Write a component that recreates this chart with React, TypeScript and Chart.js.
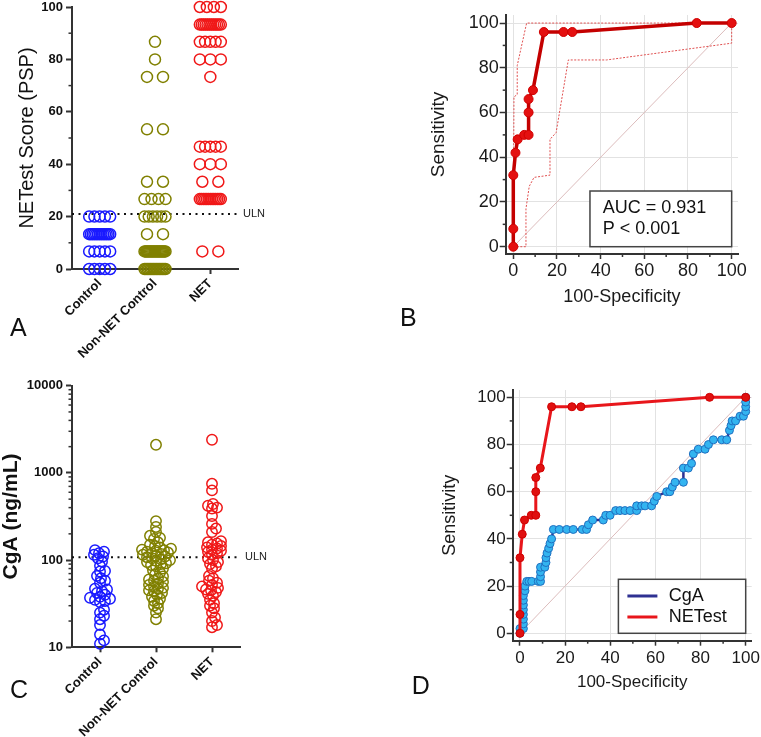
import React, { useEffect, useRef } from 'react';
import { Chart, registerables } from 'chart.js';

Chart.register(...registerables);

const FONT = 'Arial, "Liberation Sans", Helvetica, sans-serif';
const AXIS = '#333333';

// ---------------- data ----------------
const GROUPS = ['Control', 'Non-NET Control', 'NET'];
const GROUP_COLORS = ['#1a1aff', '#808000', '#f01818'];

// Panel A: NETest score (PSP)
const PSP_TICKS = [0, 20, 40, 60, 80, 100];
const PSP_MINOR = [10, 30, 50, 70, 90];
const PSP_ULN = 21;
const PSP_CONTROL = [
  0, 0, 0, 0, 0,
  6.7, 6.7, 6.7, 6.7, 6.7,
  13.3, 13.3, 13.3, 13.3, 13.3, 13.3, 13.3, 13.3, 13.3, 13.3, 13.3, 13.3, 13.3,
  20, 20, 20, 20, 20,
];
const PSP_NONNET = [
  0, 0, 0, 0, 0, 0, 0, 0, 0, 0, 0, 0, 0, 0, 0,
  6.7, 6.7, 6.7, 6.7, 6.7, 6.7, 6.7, 6.7, 6.7, 6.7,
  6.7, 6.7, 6.7, 6.7, 6.7, 6.7, 6.7, 6.7, 6.7, 6.7,
  13.3, 13.3,
  20, 20, 20, 20, 20, 20,
  26.7, 26.7, 26.7, 26.7,
  33.3, 33.3,
  53.3, 53.3,
  73.3, 73.3,
  80,
  86.7,
];
const PSP_NET = [
  6.7, 6.7,
  26.7, 26.7, 26.7, 26.7, 26.7, 26.7, 26.7, 26.7, 26.7, 26.7, 26.7, 26.7, 26.7,
  33.3, 33.3,
  40, 40, 40,
  46.7, 46.7, 46.7, 46.7, 46.7,
  73.3,
  80, 80, 80,
  86.7, 86.7, 86.7, 86.7, 86.7,
  93.3, 93.3, 93.3, 93.3, 93.3, 93.3, 93.3, 93.3, 93.3, 93.3, 93.3, 93.3,
  100, 100, 100, 100,
];

// Panel C: CgA (ng/mL)
const CGA_TICKS = [10, 100, 1000, 10000];
const CGA_MINOR = [20, 30, 40, 50, 60, 70, 80, 90, 200, 300, 400, 500, 600, 700, 800, 900, 2000, 3000, 4000, 5000, 6000, 7000, 8000, 9000];
const CGA_ULN = 108;
const CGA_CONTROL = [
  11, 12, 14, 18, 21, 23, 25, 27, 33, 34,
  35, 36, 37, 38, 40, 42, 44, 46, 47, 55,
  58, 62, 66, 74, 75, 86, 96, 105, 110, 115,
  120, 125, 130,
];
const CGA_NONNET = [
  2100,
  280, 240, 210, 190, 180, 175, 160, 150, 145,
  140, 135, 132, 130, 128, 125, 122, 120, 118, 115,
  112, 110, 108, 105, 102, 100, 98, 95, 92, 90,
  88, 85, 80, 76, 72,
  68, 65, 62, 60, 58, 56, 54, 52, 50, 48,
  47, 45, 44, 42, 40, 38, 36, 34, 32, 30,
  28, 25, 21,
];
const CGA_NET = [
  2400, 750, 630, 440, 420, 400, 390, 320, 260, 230, 210,
  165, 160, 155, 150, 145, 140, 136, 132, 128, 124, 120, 115,
  105, 100, 95, 90, 85, 80,
  66, 62, 58, 55, 52, 50, 48, 46, 45, 43, 41, 39,
  35, 32, 30, 28, 25, 22, 20, 18, 17,
];

// Panels B and D: ROC curves
const ROC_TICKS = [0, 20, 40, 60, 80, 100];
const ROC_MINOR = [10, 30, 50, 70, 90];
const NETEST_FPR = [0, 0, 0, 1, 2, 5, 7, 7, 7, 9, 14, 23, 27, 84, 100];
const NETEST_SENS = [0, 8, 32, 42, 48, 50, 50, 60, 66, 70, 96, 96, 96, 100, 100];
const CI_UPPER_FPR = [0, 0.3, 1.8, 1.8, 6.1, 100];
const CI_UPPER_SENS = [0, 67, 68, 81, 100, 100];
const CI_LOWER_FPR = [0, 5.8, 5.8, 7.3, 9.5, 16.8, 16.8, 19.6, 25.2, 42.7, 100, 100];
const CI_LOWER_SENS = [0, 0, 17, 27, 31, 32, 48, 51, 83.5, 83.5, 91, 100];
const DIAG = [0, 100];
const CGA_FPR = [
  0, 0, 1.5, 1.5, 1.5, 1.5, 1.5, 1.5, 1.5, 1.5,
  2.2, 2.2, 3, 4, 5.2, 8.1, 9.1, 9.1, 9.1, 9.1,
  11, 11.5, 11.5, 12, 12.7, 13.3, 14, 14.8, 17.4, 20.7,
  23.6, 27.6, 29.5, 30.3, 32.2, 36.9, 38, 39.9, 42.4, 44.3,
  46.5, 48.8, 51.7, 51.7, 53.9, 55.4, 58.3, 59.5, 60.6, 65,
  66.4, 67.5, 68.7, 72.4, 72.4, 74.6, 76, 76.8, 79, 82,
  83.5, 85.7, 89.4, 91.6, 92.8, 93.5, 94, 95.5, 97.5, 99,
  100, 100, 100, 100,
];
const CGA_SENS = [
  0, 2, 2, 4, 6, 8, 10, 12, 14, 16,
  18, 20, 22, 22, 22, 22, 22, 24, 26, 28,
  28, 30, 32, 34, 36, 38, 40, 44, 44, 44,
  44, 44, 44, 46, 48, 48, 50, 50, 52, 52,
  52, 52, 52, 54, 54, 54, 54, 56, 58, 60,
  60, 62, 64, 64, 70, 70, 72, 76, 78, 78,
  80, 82, 82, 82, 86, 88, 90, 90, 92, 92,
  94, 96, 98, 100,
];
const AUC_LINES = ['AUC = 0.931', 'P < 0.001'];
const LEGEND_D = ['CgA', 'NETest'];
const ROC_COLORS = { netB: '#c40000', netD: '#e8161b', cga: '#2e3192', cgaPoint: '#33b4f0' };

// ---------------- layout constants ----------------
const PA = { w: 380, h: 370, left: 72, right: 238, top: 7, bottom: 269 };
const PC = { w: 380, h: 367, left: 72, right: 240, top: 15.7, bottom: 277.3 };
const PB = { w: 381, h: 370, left: 125.7, right: 358, top: 15, bottom: 254 };
const PD = { w: 381, h: 367, left: 132.7, right: 371.7, top: 20, bottom: 270.7 };

// ---------------- helpers ----------------
function rowSpread(values: number[], pxPerUnit: number) {
  const counts = new Map<number, number>();
  const seen = new Map<number, number>();
  values.forEach((v) => counts.set(v, (counts.get(v) || 0) + 1));
  return values.map((v) => {
    const n = counts.get(v) as number;
    const i = seen.get(v) || 0;
    seen.set(v, i + 1);
    if (n === 1) return 0;
    const span = Math.min((n - 1) * 16, 21);
    return (-span / 2 + (i * span) / (n - 1)) / pxPerUnit;
  });
}

function swarm(values: number[], pxPerUnit: number, pxPerDecade: number, minDist: number) {
  const order = values.map((_, i) => i).sort((a, b) => values[a] - values[b]);
  const placed: { x: number; y: number }[] = [];
  const out: number[] = new Array(values.length).fill(0);
  for (const i of order) {
    const y = Math.log10(values[i]) * pxPerDecade;
    let x = 0;
    for (let k = 0; k < 400; k++) {
      const cand = k === 0 ? 0 : (k % 2 ? 1 : -1) * Math.ceil(k / 2);
      if (placed.every((p) => (p.x - cand) ** 2 + (p.y - y) ** 2 >= minDist * minDist)) {
        x = cand;
        break;
      }
    }
    placed.push({ x, y });
    out[i] = x / pxPerUnit;
  }
  return out;
}

function minorTicks(specs: { axis: string; values: number[]; length: number }[]) {
  return {
    id: 'minorTicks',
    afterDraw(chart: any) {
      const { ctx, chartArea } = chart;
      ctx.save();
      ctx.strokeStyle = AXIS;
      ctx.lineWidth = 1.5;
      for (const s of specs) {
        const scale = chart.scales[s.axis];
        for (const v of s.values) {
          const p = scale.getPixelForValue(v);
          ctx.beginPath();
          if (s.axis === 'y') {
            ctx.moveTo(chartArea.left, p);
            ctx.lineTo(chartArea.left - s.length, p);
          } else {
            ctx.moveTo(p, chartArea.bottom);
            ctx.lineTo(p, chartArea.bottom + s.length);
          }
          ctx.stroke();
        }
      }
      ctx.restore();
    },
  };
}

function ulnLabel(value: number) {
  return {
    id: 'ulnLabel',
    afterDraw(chart: any) {
      const { ctx } = chart;
      const x = chart.scales.x.right + 5;
      const y = chart.scales.y.getPixelForValue(value);
      ctx.save();
      ctx.fillStyle = '#222';
      ctx.font = `11px ${FONT}`;
      ctx.textAlign = 'left';
      ctx.textBaseline = 'middle';
      ctx.fillText('ULN', x, y);
      ctx.restore();
    },
  };
}

function scatterGroupConfig(opts: {
  P: typeof PA;
  groupValues: number[][];
  offsets: number[][];
  radius: number;
  uln: number;
  yScale: any;
  yMinor: number[];
  title: string;
  titleFont: any;
  titlePad: number;
  tickFontSize: number;
}) {
  const { P } = opts;
  const datasets: any[] = opts.groupValues.map((vals, gi) => ({
    label: GROUPS[gi],
    data: vals.map((v, i) => ({ x: gi + 1 + opts.offsets[gi][i], y: v })),
    pointRadius: opts.radius,
    pointBorderWidth: 1.5,
    pointBorderColor: GROUP_COLORS[gi],
    pointBackgroundColor: 'rgba(0,0,0,0)',
    showLine: false,
    clip: false,
  }));
  datasets.push({
    label: 'ULN',
    data: [
      { x: 0.5, y: opts.uln },
      { x: 3.5, y: opts.uln },
    ],
    showLine: true,
    borderColor: '#111',
    borderWidth: 2,
    borderDash: [2, 4.5],
    pointRadius: 0,
    clip: false,
  });
  return {
    type: 'scatter',
    data: { datasets },
    options: {
      animation: false,
      responsive: false,
      devicePixelRatio: 1,
      layout: { autoPadding: false, padding: { left: 0, top: P.top, right: P.w - P.right, bottom: 0 } },
      plugins: { legend: { display: false }, tooltip: { enabled: false } },
      scales: {
        x: {
          type: 'linear',
          min: 0.5,
          max: 3.5,
          afterBuildTicks: (s: any) => {
            s.ticks = GROUPS.map((_, i) => ({ value: i + 1 }));
          },
          afterFit: (s: any) => {
            s.height = P.h - P.bottom;
            s.paddingLeft = 0;
            s.paddingRight = 0;
          },
          ticks: {
            autoSkip: false,
            minRotation: 45,
            maxRotation: 45,
            padding: 2,
            color: '#111',
            font: { family: FONT, size: 13, weight: 'bold' },
            callback: (v: number) => GROUPS[Math.round(v) - 1] ?? '',
          },
          grid: { display: true, drawOnChartArea: false, tickLength: 5, tickColor: AXIS, tickWidth: 2 },
          border: { display: true, color: AXIS, width: 2 },
        },
        y: {
          ...opts.yScale,
          afterFit: (s: any) => {
            s.width = P.left;
            s.paddingTop = 0;
            s.paddingBottom = 0;
          },
          ticks: {
            autoSkip: false,
            padding: 3,
            color: '#111',
            font: { family: FONT, size: opts.tickFontSize, weight: 'bold' },
            callback: (v: number) => String(v),
          },
          grid: { display: true, drawOnChartArea: false, tickLength: 6, tickColor: AXIS, tickWidth: 2 },
          border: { display: true, color: AXIS, width: 2 },
          title: {
            display: true,
            text: opts.title,
            color: '#111',
            font: opts.titleFont,
            padding: { top: opts.titlePad, bottom: 0 },
          },
        },
      },
    },
    plugins: [minorTicks([{ axis: 'y', values: opts.yMinor, length: 3.5 }]), ulnLabel(opts.uln)],
  };
}

function buildA() {
  const ppu = (PA.right - PA.left) / 3;
  const groupValues = [PSP_CONTROL, PSP_NONNET, PSP_NET];
  return scatterGroupConfig({
    P: PA,
    groupValues,
    offsets: groupValues.map((g) => rowSpread(g, ppu)),
    radius: 5.5,
    uln: PSP_ULN,
    yScale: {
      min: 0,
      max: 100,
      afterBuildTicks: (s: any) => {
        s.ticks = PSP_TICKS.map((v) => ({ value: v }));
      },
    },
    yMinor: PSP_MINOR,
    title: 'NETest Score (PSP)',
    titleFont: { family: FONT, size: 20, lineHeight: 1 },
    titlePad: 17.4,
    tickFontSize: 13,
  });
}

function buildC() {
  const ppu = (PC.right - PC.left) / 3;
  const ppd = (PC.bottom - PC.top) / 3;
  const groupValues = [CGA_CONTROL, CGA_NONNET, CGA_NET];
  return scatterGroupConfig({
    P: PC,
    groupValues,
    offsets: groupValues.map((g) => swarm(g, ppu, ppd, 4.6)),
    radius: 5.2,
    uln: CGA_ULN,
    yScale: {
      type: 'logarithmic',
      min: 10,
      max: 10000,
      afterBuildTicks: (s: any) => {
        s.ticks = CGA_TICKS.map((v) => ({ value: v, major: true }));
      },
    },
    yMinor: CGA_MINOR,
    title: 'CgA (ng/mL)',
    titleFont: { family: FONT, size: 21, weight: 'bold', lineHeight: 1 },
    titlePad: 1.2,
    tickFontSize: 13,
  });
}

function pts(xs: number[], ys: number[]) {
  return xs.map((x, i) => ({ x, y: ys[i] }));
}

function rocConfig(opts: {
  P: typeof PB;
  xMin: number;
  xMax: number;
  yMin: number;
  yMax: number;
  datasets: any[];
  tickSize: number;
  yTitleSize: number;
  yTitlePad: number;
  xTitleSize: number;
  xTitlePad: number;
  xTickPad: number;
  extra: any;
}) {
  const { P } = opts;
  return {
    type: 'scatter',
    data: { datasets: opts.datasets },
    options: {
      animation: false,
      responsive: false,
      devicePixelRatio: 1,
      layout: { autoPadding: false, padding: { left: 0, top: P.top, right: P.w - P.right, bottom: 0 } },
      plugins: { legend: { display: false }, tooltip: { enabled: false } },
      scales: {
        x: {
          type: 'linear',
          min: opts.xMin,
          max: opts.xMax,
          afterBuildTicks: (s: any) => {
            s.ticks = ROC_TICKS.map((v) => ({ value: v }));
          },
          afterFit: (s: any) => {
            s.height = P.h - P.bottom;
            s.paddingLeft = 0;
            s.paddingRight = 0;
          },
          ticks: {
            autoSkip: false,
            maxRotation: 0,
            padding: opts.xTickPad,
            color: '#1a1a1a',
            font: { family: FONT, size: opts.tickSize },
            callback: (v: number) => String(v),
          },
          grid: { display: true, color: '#e2e2e2', lineWidth: 1, tickLength: 5, tickColor: AXIS, tickWidth: 1.5 },
          border: { display: true, color: AXIS, width: 2 },
          title: {
            display: true,
            text: '100-Specificity',
            color: '#1a1a1a',
            font: { family: FONT, size: opts.xTitleSize, lineHeight: 1 },
            padding: { top: 0, bottom: opts.xTitlePad },
          },
        },
        y: {
          type: 'linear',
          min: opts.yMin,
          max: opts.yMax,
          afterBuildTicks: (s: any) => {
            s.ticks = ROC_TICKS.map((v) => ({ value: v }));
          },
          afterFit: (s: any) => {
            s.width = P.left;
            s.paddingTop = 0;
            s.paddingBottom = 0;
          },
          ticks: {
            autoSkip: false,
            padding: 1,
            color: '#1a1a1a',
            font: { family: FONT, size: opts.tickSize },
            callback: (v: number) => String(v),
          },
          grid: { display: true, color: '#e2e2e2', lineWidth: 1, tickLength: 6, tickColor: AXIS, tickWidth: 1.5 },
          border: { display: true, color: AXIS, width: 2 },
          title: {
            display: true,
            text: 'Sensitivity',
            color: '#1a1a1a',
            font: { family: FONT, size: opts.yTitleSize, lineHeight: 1 },
            padding: { top: opts.yTitlePad, bottom: 0 },
          },
        },
      },
    },
    plugins: [
      minorTicks([
        { axis: 'y', values: ROC_MINOR, length: 3 },
        { axis: 'x', values: ROC_MINOR, length: 3 },
      ]),
      opts.extra,
    ],
  };
}

const diagonalDataset = {
  label: 'diag',
  data: pts(DIAG, DIAG),
  showLine: true,
  borderColor: '#dcbcbc',
  borderWidth: 1,
  pointRadius: 0,
};

function buildB() {
  const aucBox = {
    id: 'aucBox',
    afterDraw(chart: any) {
      const { ctx } = chart;
      const right = chart.scales.x.getPixelForValue(100);
      const bottom = chart.scales.y.getPixelForValue(0);
      const w = 141.7;
      const h = 55.7;
      ctx.save();
      ctx.fillStyle = '#ffffff';
      ctx.fillRect(right - w, bottom - h, w, h);
      ctx.strokeStyle = '#444';
      ctx.lineWidth = 1.5;
      ctx.strokeRect(right - w, bottom - h, w, h);
      ctx.fillStyle = '#111';
      ctx.font = `18px ${FONT}`;
      ctx.textAlign = 'left';
      ctx.textBaseline = 'middle';
      ctx.fillText(AUC_LINES[0], right - w + 12.7, bottom - h + 17);
      ctx.fillText(AUC_LINES[1], right - w + 12.7, bottom - h + 38.5);
      ctx.restore();
    },
  };
  return rocConfig({
    P: PB,
    xMin: -3.48,
    xMax: 102.9,
    yMin: -3.26,
    yMax: 103.6,
    tickSize: 18,
    yTitleSize: 19,
    yTitlePad: 49.2,
    xTitleSize: 18,
    xTitlePad: 63.6,
    xTickPad: 1,
    datasets: [
      {
        label: 'NETest',
        data: pts(NETEST_FPR, NETEST_SENS),
        showLine: true,
        borderColor: ROC_COLORS.netB,
        borderWidth: 3.5,
        pointRadius: 4.5,
        pointBackgroundColor: '#e41010',
        pointBorderColor: '#d00000',
        pointBorderWidth: 1,
        clip: false,
      },
      {
        label: 'upper',
        data: pts(CI_UPPER_FPR, CI_UPPER_SENS),
        showLine: true,
        borderColor: '#e05050',
        borderWidth: 1,
        borderDash: [2, 1.5],
        pointRadius: 0,
      },
      {
        label: 'lower',
        data: pts(CI_LOWER_FPR, CI_LOWER_SENS),
        showLine: true,
        borderColor: '#e05050',
        borderWidth: 1,
        borderDash: [2, 1.5],
        pointRadius: 0,
      },
      diagonalDataset,
    ],
    extra: aucBox,
  });
}

function buildD() {
  const legendBox = {
    id: 'legendBox',
    afterDraw(chart: any) {
      const { ctx } = chart;
      const right = chart.scales.x.getPixelForValue(100);
      const bottom = chart.scales.y.getPixelForValue(0);
      const w = 127.3;
      const h = 54;
      const left = right - w;
      const top = bottom - h;
      ctx.save();
      ctx.fillStyle = '#ffffff';
      ctx.fillRect(left, top, w, h);
      ctx.strokeStyle = '#444';
      ctx.lineWidth = 1.5;
      ctx.strokeRect(left, top, w, h);
      const colors = [ROC_COLORS.cga, ROC_COLORS.netD];
      const rows = [16.7, 37.7];
      LEGEND_D.forEach((label, i) => {
        const y = top + rows[i];
        ctx.strokeStyle = colors[i];
        ctx.lineWidth = 3;
        ctx.beginPath();
        ctx.moveTo(left + 9, y);
        ctx.lineTo(left + 39, y);
        ctx.stroke();
        ctx.fillStyle = '#111';
        ctx.font = `18px ${FONT}`;
        ctx.textAlign = 'left';
        ctx.textBaseline = 'middle';
        ctx.fillText(label, left + 50.3, y);
      });
      ctx.restore();
    },
  };
  return rocConfig({
    P: PD,
    xMin: -3.23,
    xMax: 102.66,
    yMin: -3.14,
    yMax: 103.1,
    tickSize: 17,
    yTitleSize: 18,
    yTitlePad: 61,
    xTitleSize: 17,
    xTitlePad: 46.2,
    xTickPad: 2.5,
    datasets: [
      {
        label: 'NETest',
        data: pts(NETEST_FPR, NETEST_SENS),
        showLine: true,
        borderColor: ROC_COLORS.netD,
        borderWidth: 3,
        pointRadius: 4,
        pointBackgroundColor: '#e01010',
        pointBorderColor: '#d00000',
        pointBorderWidth: 1,
        clip: false,
      },
      {
        label: 'CgA',
        data: pts(CGA_FPR, CGA_SENS),
        showLine: true,
        borderColor: ROC_COLORS.cga,
        borderWidth: 2.5,
        pointRadius: 4,
        pointBackgroundColor: ROC_COLORS.cgaPoint,
        pointBorderColor: '#1f6fc0',
        pointBorderWidth: 1,
        clip: false,
      },
      diagonalDataset,
    ],
    extra: legendBox,
  });
}

function Panel(props: { left: number; top: number; width: number; height: number; build: () => any }) {
  const ref = useRef<HTMLCanvasElement | null>(null);
  const { build } = props;
  useEffect(() => {
    if (!ref.current) return;
    const chart = new Chart(ref.current, build());
    return () => chart.destroy();
  }, [build]);
  return (
    <canvas
      ref={ref}
      width={props.width}
      height={props.height}
      style={{ position: 'absolute', left: props.left, top: props.top, width: props.width, height: props.height }}
    />
  );
}

const LETTERS = [
  { text: 'A', left: 10, top: 314.7 },
  { text: 'B', left: 400, top: 305 },
  { text: 'C', left: 10, top: 676.7 },
  { text: 'D', left: 411.7, top: 673.4 },
];

export default function App() {
  return (
    <div style={{ position: 'absolute', left: 0, top: 0, width: 761, height: 737, background: '#fff', overflow: 'hidden' }}>
      <Panel left={0} top={0} width={PA.w} height={PA.h} build={buildA} />
      <Panel left={380} top={0} width={PB.w} height={PB.h} build={buildB} />
      <Panel left={0} top={370} width={PC.w} height={PC.h} build={buildC} />
      <Panel left={380} top={370} width={PD.w} height={PD.h} build={buildD} />
      {LETTERS.map((l) => (
        <div
          key={l.text}
          style={{
            position: 'absolute',
            left: l.left,
            top: l.top,
            fontFamily: FONT,
            fontSize: 25,
            lineHeight: '25px',
            color: '#111',
          }}
        >
          {l.text}
        </div>
      ))}
    </div>
  );
}
